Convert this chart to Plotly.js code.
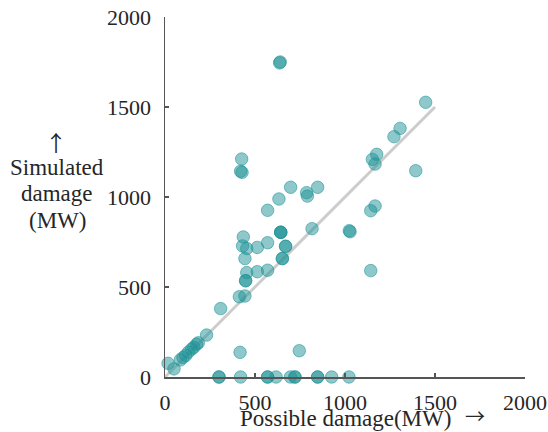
<!DOCTYPE html>
<html>
<head>
<meta charset="utf-8">
<script src="https://cdn.plot.ly/plotly-3.0.1.min.js"></script>
<style>
  html, body { margin: 0; padding: 0; background: #ffffff; }
  #chart { width: 548px; height: 432px; }
</style>
</head>
<body>
<div id="chart"></div>
<script>
// Possible damage (MW) vs simulated damage (MW) for each event
const possibleDamage = [
  17, 50, 85, 100, 115, 130, 148, 160, 176, 185, 231,
  300, 300, 420, 570, 570, 617, 697, 722, 722, 848, 848, 926, 1022,
  417, 746, 309,
  413, 444,
  448, 448,
  454, 513, 570,
  444, 652, 652,
  431, 454, 513, 570, 670, 670,
  435,
  643, 643, 643,
  817, 1024, 1028,
  570, 633, 698, 787, 791, 848,
  426, 420, 428,
  640, 637,
  1448, 1306, 1272, 1176, 1152, 1167, 1393, 1167, 1143, 1143
];
const simulatedDamage = [
  76, 45, 95, 108, 120, 138, 155, 165, 182, 190, 233,
  0, 0, 0, 0, 0, 0, 0, 0, 0, 0, 0, 0, 0,
  137, 146, 380,
  446, 450,
  535, 535,
  580, 585, 593,
  658, 658, 658,
  728, 714, 720, 746, 726, 726,
  778,
  804, 804, 804,
  824, 813, 807,
  926, 989, 1054, 1024, 1005, 1054,
  1211, 1143, 1137,
  1750, 1745,
  1526, 1381, 1335, 1237, 1209, 1183, 1146, 950, 924, 591
];
// Reference line y = x
const refLine = [0, 1500];
const tickValues = [0, 500, 1000, 1500, 2000];
// Vertical axis caption, one line per entry
const yTitleLines = ['Simulated', 'damage', '(MW)'];
const xTitle = 'Possible damage(MW)';

const fontFamily = 'Liberation Serif, Times New Roman, serif';
const arrowFamily = 'Noto Sans CJK JP, Noto Sans CJK SC, DejaVu Sans, sans-serif';
const textColor = '#262626';

const traces = [
  {
    x: refLine, y: refLine,
    mode: 'lines', type: 'scatter',
    line: { color: '#cccccc', width: 3 },
    hoverinfo: 'skip', showlegend: false
  },
  {
    x: possibleDamage, y: simulatedDamage,
    mode: 'markers', type: 'scatter',
    cliponaxis: false,
    marker: {
      size: 12.5,
      color: 'rgba(30,145,150,0.5)',
      line: { color: 'rgba(30,145,150,0.55)', width: 1 }
    },
    showlegend: false
  }
];

const axisCommon = {
  range: [0, 2000],
  tickvals: tickValues,
  ticktext: tickValues.map(String),
  ticks: 'inside',
  ticklen: 4,
  tickwidth: 1.5,
  tickcolor: '#555555',
  showline: true,
  linecolor: '#555555',
  linewidth: 1.5,
  showgrid: false,
  zeroline: false,
  tickfont: { family: fontFamily, size: 22, color: textColor },
  fixedrange: true
};

// caption line positions in paper units (plot area is 360 px tall)
const yTitleY = [0.583, 0.511, 0.436];

const annotations = yTitleLines.map((t, i) => ({
  text: t,
  xref: 'paper', yref: 'paper',
  x: -0.3, y: yTitleY[i],
  xanchor: 'center', yanchor: 'middle',
  showarrow: false,
  font: { family: fontFamily, size: 23, color: textColor }
}));
// arrow glyphs beside the axis captions
annotations.push({
  text: '↑',
  xref: 'paper', yref: 'paper',
  x: -0.303, y: 0.655,
  xanchor: 'center', yanchor: 'middle',
  showarrow: false,
  font: { family: arrowFamily, size: 22, color: textColor }
});
annotations.push({
  text: xTitle,
  xref: 'paper', yref: 'paper',
  x: 0.5, y: -0.114,
  xanchor: 'center', yanchor: 'middle',
  showarrow: false,
  font: { family: fontFamily, size: 23, color: textColor }
});
annotations.push({
  text: '→',
  xref: 'paper', yref: 'paper',
  x: 0.861, y: -0.108,
  xanchor: 'center', yanchor: 'middle',
  showarrow: false,
  font: { family: arrowFamily, size: 20, color: textColor }
});

const layout = {
  width: 548, height: 432,
  margin: { l: 165, r: 23, t: 17, b: 55 },
  paper_bgcolor: '#ffffff',
  plot_bgcolor: '#ffffff',
  font: { family: fontFamily, color: textColor },
  xaxis: Object.assign({}, axisCommon, { ticklabelstandoff: 5 }),
  yaxis: Object.assign({}, axisCommon, { ticklabelstandoff: 8 }),
  annotations: annotations
};

Plotly.newPlot('chart', traces, layout, { staticPlot: true, displayModeBar: false });
</script>
</body>
</html>
